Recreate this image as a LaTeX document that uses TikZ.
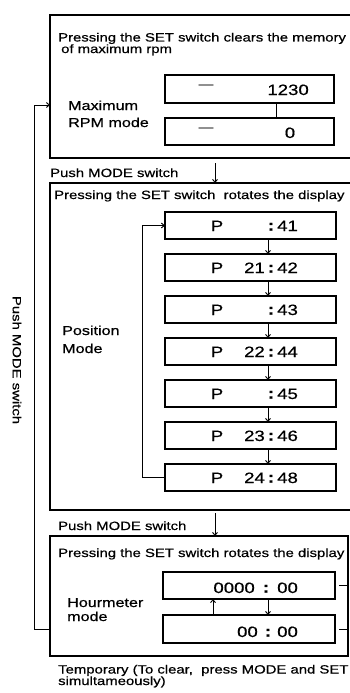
\documentclass[tikz,border=0pt]{standalone}
\usepackage{fontspec}
\setmainfont[FakeStretch=1.24,FakeBold=0.6]{Liberation Sans}
\usetikzlibrary{arrows.meta}
\begin{document}
\begin{tikzpicture}[x=1pt,y=-1pt,
  frame/.style={draw, line width=1.2pt, inner sep=0pt, outer sep=0pt, anchor=north west},
  disp/.style={draw, line width=1.1pt, inner sep=0pt, outer sep=0pt, anchor=north west},
  small/.style={font=\fontsize{12}{12}\selectfont, inner sep=0pt, anchor=base west},
  big/.style={font=\fontsize{13}{13}\selectfont, inner sep=0pt, anchor=base west},
  dig/.style={font=\fontsize{15}{15}\selectfont, inner sep=0pt, anchor=base},
  line/.style={line width=0.9pt},
  arr/.style={line width=0.9pt, -{Straight Barb[length=3pt,width=5pt]}}
]
\useasboundingbox (0,0) rectangle (350,693);
\clip (0,0) rectangle (350,693);

% ---------- main frames ----------
\node[frame, minimum width=310pt, minimum height=143pt] (b1) at (50,15) {};
\node[frame, minimum width=310pt, minimum height=327pt] (b2) at (50,183) {};
\node[frame, minimum width=298pt, minimum height=120pt] (b3) at (50,536) {};

% ---------- Maximum RPM mode ----------
\node[small] (t1) at (58,41.5) {Pressing the SET switch clears the memory};
\node[small] (t2) at (61,53) {of maximum rpm};
\node[big] (m1) at (68,110) {Maximum};
\node[big] (m2) at (68,127) {RPM mode};
\node[disp, minimum width=169pt, minimum height=28pt] (d1) at (165,75) {};
\node[disp, minimum width=169pt, minimum height=27pt] (d2) at (165,118) {};
\node[font=\fontsize{12}{12}\selectfont, inner sep=0pt, anchor=base] (d1a) at (206,88) {—};
\node[font=\fontsize{12}{12}\selectfont, inner sep=0pt, anchor=base] (d2a) at (206,131) {—};
\node[dig, anchor=base east] (d1b) at (309,95) {1230};
\node[dig] (d2b) at (290,138) {0};
\coordinate (c12) at (276,0);
\draw[line] (c12 |- d1.south) -- (c12 |- d2.north);

% ---------- first Push MODE switch ----------
\node[small] (pm1) at (50,177) {Push MODE switch};
\coordinate (a1s) at (215,163);
\draw[arr] (a1s) -- (a1s |- b2.north);

% ---------- Position mode ----------
\node[small] (t3) at (54,199) {Pressing the SET switch\ \ rotates the display};
\node[big] (pos1) at (62,335) {Position};
\node[big] (pos2) at (62,353) {Mode};
\foreach \i/\l/\r in {1//41,2/21/42,3//43,4/22/44,5//45,6/23/46,7/24/48}{
  \node[disp, minimum width=171pt, minimum height=27pt] (p\i) at (165,{212+42*(\i-1)}) {};
  \node[dig] (pp\i) at (217,{212+42*(\i-1)+19}) {P};
  \node[dig, anchor=base east] (pl\i) at (265,{212+42*(\i-1)+19}) {\l};
  \node[dig] (pc\i) at (271,{212+42*(\i-1)+18.5}) {\textbf{:}};
  \node[dig, anchor=base west] (pr\i) at (277,{212+42*(\i-1)+19}) {\r};
}
\coordinate (px) at (268,0);
\foreach \i/\j in {1/2,2/3,3/4,4/5,5/6,6/7}{
  \draw[arr] (p\i.south -| px) -- (p\j.north -| px);
}
\draw[arr] (p7.west) -- ++(-23,0) |- (p1.west);

% ---------- second Push MODE switch ----------
\node[small] (pm2) at (58,530) {Push MODE switch};
\coordinate (a2s) at (215,513);
\draw[arr] (a2s) -- (a2s |- b3.north);

% ---------- Hourmeter mode ----------
\node[small] (t4) at (58,557) {Pressing the SET switch rotates the display};
\node[big] (h1t) at (67,607) {Hourmeter};
\node[big] (h2t) at (67,621) {mode};
\node[disp, minimum width=172pt, minimum height=27pt] (h1) at (163,572) {};
\node[disp, minimum width=172pt, minimum height=28pt] (h2) at (163,615) {};
\node[dig, anchor=base east] (h1l) at (255,593) {0000};
\node[dig] (h1c) at (266,592.5) {\textbf{:}};
\node[dig, anchor=base west] (h1r) at (277,593) {00};
\node[dig, anchor=base east] (h2l) at (258,637) {00};
\node[dig] (h2c) at (268,636.5) {\textbf{:}};
\node[dig, anchor=base west] (h2r) at (277,637) {00};
\coordinate (ux) at (213,0);
\coordinate (dx) at (268,0);
\draw[arr] (h2.north -| ux) -- (h1.south -| ux);
\draw[arr] (h1.south -| dx) -- (h2.north -| dx);
\draw[line] ([xshift=4pt]h1.east) -- (h1.east -| b3.east);
\draw[line] ([xshift=4pt]h2.east) -- (h2.east -| b3.east);

% ---------- outer loop ----------
\coordinate (lpb) at (34,629);
\coordinate (lpt) at (34,105);
\draw[arr] (lpb -| b3.west) -- (lpb) -- (lpt) -- (lpt -| b1.west);
\node[small, anchor=center, rotate=-90] (side) at (17,360) {Push MODE switch};

% ---------- note ----------
\node[small] (n1) at (58,673.5) {Temporary (To clear,\ \ press MODE and SET};
\node[small] (n2) at (58,685) {simultameously)};
\end{tikzpicture}
\end{document}
